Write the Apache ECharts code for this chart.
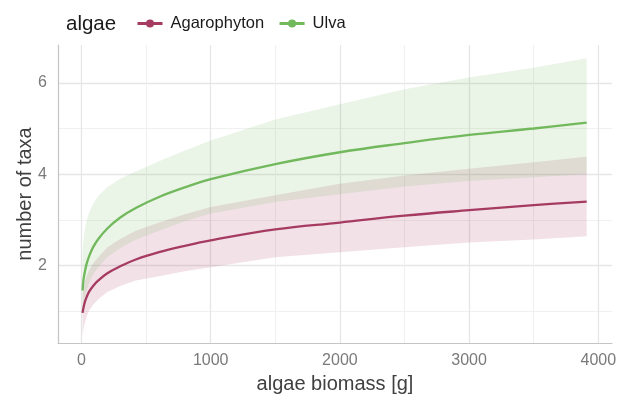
<!DOCTYPE html>
<html><head><meta charset="utf-8">
<script src="https://cdn.jsdelivr.net/npm/echarts@6/dist/echarts.min.js"></script>
<style>html,body{margin:0;padding:0;background:#fff}#c{width:618px;height:394px}</style>
</head><body><div id="c"></div>
<script>
// ---- data ----
const biomass    = [8, 15, 25, 40, 60, 90, 130, 200, 300, 420, 600, 800, 1000, 1500, 2000, 2500, 3000, 3500, 3910];
const agarFit    = [0.96, 1.07, 1.19, 1.31, 1.43, 1.55, 1.67, 1.83, 1.98, 2.13, 2.29, 2.43, 2.55, 2.79, 2.94, 3.09, 3.21, 3.32, 3.40];
const agarLower  = [0.45, 0.60, 0.74, 0.88, 1.02, 1.14, 1.26, 1.42, 1.55, 1.67, 1.76, 1.87, 1.96, 2.18, 2.29, 2.40, 2.50, 2.57, 2.64];
const agarUpper  = [1.40, 1.50, 1.64, 1.76, 1.90, 2.05, 2.18, 2.40, 2.58, 2.76, 2.94, 3.12, 3.28, 3.54, 3.79, 3.97, 4.12, 4.26, 4.38];
const ulvaFit    = [1.45, 1.68, 1.85, 2.04, 2.21, 2.40, 2.58, 2.81, 3.05, 3.26, 3.50, 3.71, 3.89, 4.22, 4.48, 4.68, 4.86, 5.00, 5.13];
const ulvaLower  = [0.95, 1.12, 1.30, 1.46, 1.62, 1.80, 1.96, 2.18, 2.38, 2.56, 2.76, 2.97, 3.14, 3.39, 3.56, 3.73, 3.85, 3.93, 4.00];
const ulvaUpper  = [2.25, 2.55, 2.78, 2.98, 3.17, 3.35, 3.52, 3.72, 3.90, 4.06, 4.28, 4.52, 4.74, 5.20, 5.53, 5.86, 6.12, 6.33, 6.54];
const groups     = ['Agarophyton', 'Ulva'];
const xMajorTicks = [0, 1000, 2000, 3000, 4000];
const xMinorTicks = [500, 1500, 2500, 3500];
const yMajorTicks = [2, 4, 6];
const yMinorTicks = [1, 3, 5];

// ---- styling ----
const FONT = "'Liberation Sans', Arial, Helvetica, sans-serif";
const RED = '#A63B62', GREEN = '#72B85C';
const RED_FILL = 'rgba(166,59,98,0.15)', GREEN_FILL = 'rgba(114,184,92,0.15)';

function ribbon(name, lower, upper, fill) {
  const data = biomass.map((x, i) => [x, lower[i], upper[i]]);
  return {
    type: 'custom', name: name + ' band', xAxisIndex: 0, yAxisIndex: 0,
    silent: true, z: 1, data: data, encode: { x: 0, y: [1, 2] },
    renderItem: function (params, api) {
      if (params.dataIndex !== 0) return null;
      const up = [], lo = [];
      for (let i = 0; i < data.length; i++) up.push(api.coord([data[i][0], data[i][2]]));
      for (let i = data.length - 1; i >= 0; i--) lo.push(api.coord([data[i][0], data[i][1]]));
      return {
        type: 'group', children: [
          { type: 'polygon', shape: { points: up.concat(lo) }, style: { fill: fill, stroke: null } }
        ]
      };
    }
  };
}
function fitLine(name, values, color) {
  return {
    type: 'line', name: name, xAxisIndex: 0, yAxisIndex: 0, z: 3,
    data: biomass.map((x, i) => [x, values[i]]),
    smooth: 0.4,
    symbol: 'circle', symbolSize: 8, showSymbol: false,
    lineStyle: { width: 2.3, color: color }, itemStyle: { color: color },
    emphasis: { disabled: true }
  };
}
const plain = v => String(v);

const chart = echarts.init(document.getElementById('c'), null, { renderer: 'canvas' });
chart.setOption({
  animation: false,
  backgroundColor: '#ffffff',
  textStyle: { fontFamily: FONT },
  title: {
    text: 'algae', left: 61, top: 9,
    textStyle: { fontSize: 20.5, fontWeight: 'normal', color: '#1a1a1a', fontFamily: FONT }
  },
  legend: {
    data: groups, left: 131, top: 10, itemWidth: 25, itemHeight: 10, itemGap: 14,
    lineStyle: { width: 3 },
    textStyle: { fontSize: 16.5, color: '#1a1a1a', fontFamily: FONT, padding: [0, 0, 0, 3] }
  },
  grid: { left: 58, right: 6, top: 45, bottom: 51, containLabel: false, outerBoundsMode: 'none' },
  xAxis: [
    {
      type: 'value', min: -182, max: 4106,
      axisLine: { show: true, onZero: false, lineStyle: { color: '#C4C4C4', width: 1.2 } },
      axisTick: { show: false, customValues: xMajorTicks },
      axisLabel: { customValues: xMajorTicks, formatter: plain, color: '#7a7a7a', fontSize: 16, margin: 10, fontFamily: FONT },
      splitLine: { show: true, lineStyle: { color: '#E6E6E6', width: 1.3 } },
      name: 'algae biomass [g]', nameLocation: 'middle', nameGap: 31, nameMoveOverlap: false,
      nameTextStyle: { fontSize: 20, color: '#404040', fontFamily: FONT }
    },
    {
      type: 'value', min: -182, max: 4106, position: 'top',
      axisLine: { show: false }, axisTick: { show: false, customValues: xMinorTicks },
      axisLabel: { show: false, customValues: xMinorTicks },
      splitLine: { show: true, lineStyle: { color: '#F0F0F0', width: 1 } }
    }
  ],
  yAxis: [
    {
      type: 'value', min: 0.3, max: 6.83,
      axisLine: { show: true, onZero: false, lineStyle: { color: '#C4C4C4', width: 1.2 } },
      axisTick: { show: false, customValues: yMajorTicks },
      axisLabel: { customValues: yMajorTicks, formatter: plain, color: '#7a7a7a', fontSize: 16, margin: 11, fontFamily: FONT },
      splitLine: { show: true, lineStyle: { color: '#E6E6E6', width: 1.3 } },
      name: 'number of taxa', nameLocation: 'middle', nameGap: 23, nameRotate: 90, nameMoveOverlap: false,
      nameTextStyle: { fontSize: 20, color: '#404040', fontFamily: FONT }
    },
    {
      type: 'value', min: 0.3, max: 6.83, position: 'right',
      axisLine: { show: false }, axisTick: { show: false, customValues: yMinorTicks },
      axisLabel: { show: false, customValues: yMinorTicks },
      splitLine: { show: true, lineStyle: { color: '#F0F0F0', width: 1 } }
    }
  ],
  series: [
    ribbon('Agarophyton', agarLower, agarUpper, RED_FILL),
    ribbon('Ulva', ulvaLower, ulvaUpper, GREEN_FILL),
    fitLine('Agarophyton', agarFit, RED),
    fitLine('Ulva', ulvaFit, GREEN)
  ]
});
</script>
</body></html>
